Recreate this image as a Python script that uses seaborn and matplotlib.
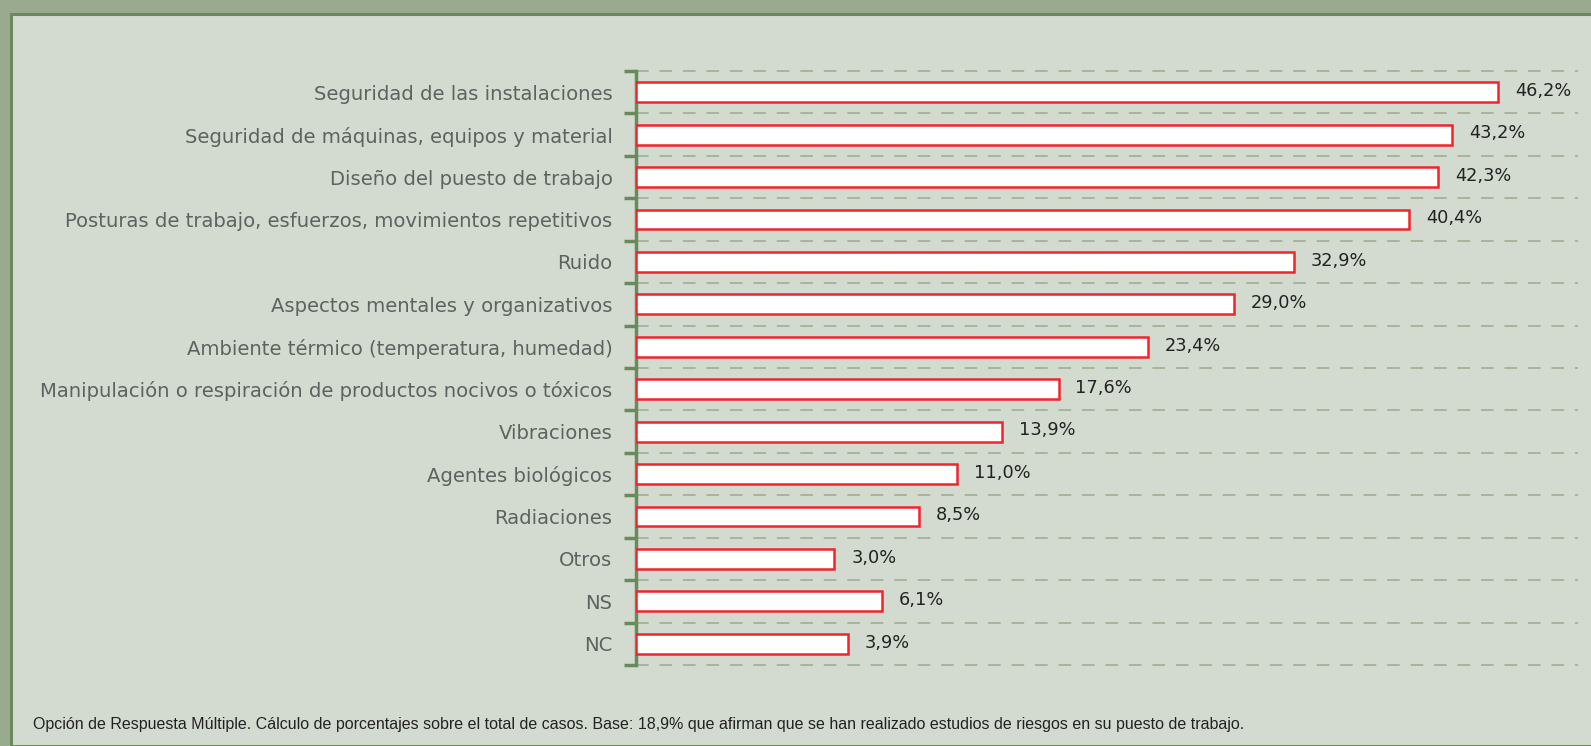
import numpy as np
import pandas as pd
import matplotlib
matplotlib.use('Agg')
import matplotlib.pyplot as plt
import seaborn as sns
from matplotlib.patches import Rectangle

categories = [
    'Seguridad de las instalaciones',
    'Seguridad de máquinas, equipos y material',
    'Diseño del puesto de trabajo',
    'Posturas de trabajo, esfuerzos, movimientos repetitivos',
    'Ruido',
    'Aspectos mentales y organizativos',
    'Ambiente térmico (temperatura, humedad)',
    'Manipulación o respiración de productos nocivos o tóxicos',
    'Vibraciones',
    'Agentes biológicos',
    'Radiaciones',
    'Otros',
    'NS',
    'NC',
]
values = [46.2, 43.2, 42.3, 40.4, 32.9, 29.0, 23.4, 17.6, 13.9, 11.0, 8.5, 3.0, 6.1, 3.9]
footnote = ('Opción de Respuesta Múltiple. Cálculo de porcentajes sobre el total de casos. '
            'Base: 18,9% que afirman que se han realizado estudios de riesgos en su puesto de trabajo.')

df = pd.DataFrame({'cat': categories, 'val': values})

# axis of the original starts below zero, bars start at the axis
x_min, x_max = -9.9, 51.4

sns.set_theme(style='white')
plt.rcParams['font.family'] = ['DejaVu Sans']

fig = plt.figure(figsize=(15.91, 7.46), dpi=100)
fig.patch.set_facecolor('#9aaa8e')
panel = Rectangle((11 / 1591, 0), 1.0, 1 - 14 / 746, transform=fig.transFigure,
                  facecolor='#d3dbd0', edgecolor='#6b8a5b', linewidth=2.2, zorder=-5)
fig.patches.append(panel)

ax = fig.add_axes([636 / 1591, 1 - 665 / 746, (1578 - 636) / 1591, (665 - 71) / 746])
ax.set_facecolor('none')

sns.barplot(data=df, x='val', y='cat', orient='h', ax=ax, color='white',
            edgecolor='#f0252b', linewidth=1.8, width=0.47, saturation=1, zorder=3)

for p, v in zip(ax.patches, values):
    p.set_x(x_min)
    p.set_width(v - x_min)
    ax.text(v + 1.1, p.get_y() + p.get_height() / 2 - 0.03, f'{v:.1f}%'.replace('.', ','),
            va='center', ha='left', fontsize=12.8, color='#222222')

ax.set_xlim(x_min, x_max)
ax.set_ylim(len(categories) - 0.5, -0.5)
ax.set_xlabel('')
ax.set_ylabel('')
ax.set_xticks([])

bounds = np.arange(len(categories) + 1) - 0.5
ax.set_yticks(bounds, minor=True)
ax.hlines(bounds, x_min, x_max, colors='#a3b198', linestyles=(0, (7, 6)),
          linewidth=1.3, zorder=1, clip_on=False)
ax.tick_params(axis='y', which='major', length=0, pad=17, labelsize=14.1, labelcolor='#5e6260')
ax.tick_params(axis='y', which='minor', length=9, width=2.5, color='#6b8a5b', left=True)

for s in ['top', 'right', 'bottom']:
    ax.spines[s].set_visible(False)
ax.spines['left'].set_color('#6b8a5b')
ax.spines['left'].set_linewidth(2.5)

fig.text(33 / 1591, 1 - 725 / 746, footnote, fontsize=11.5, color='#222222',
         family='Liberation Sans', va='center', ha='left')

fig.savefig('out.png', dpi=100, facecolor=fig.get_facecolor())
